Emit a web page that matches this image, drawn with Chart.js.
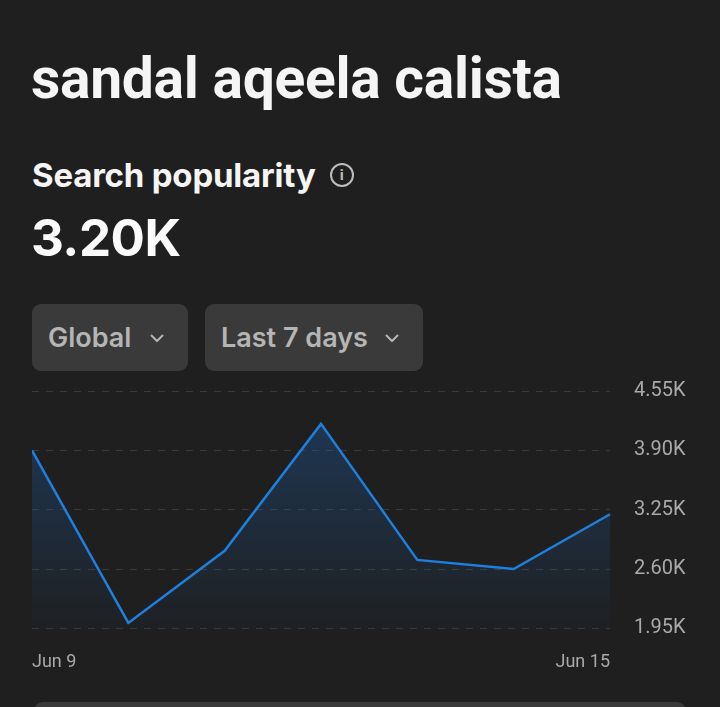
<!DOCTYPE html>
<html>
<head>
<meta charset="utf-8">
<script src="https://cdn.jsdelivr.net/npm/chart.js@4.4.1/dist/chart.umd.min.js"></script>
<style>
  body { margin:0; background:#1f1f1f; width:720px; height:707px; overflow:hidden; font-family:Roboto, sans-serif; position:relative; }
  .title { position:absolute; left:31px; top:45px; font-size:57px; font-weight:700; color:#f5f5f5; letter-spacing:-0.3px; }
  .sub { position:absolute; left:32px; top:155px; font-family:Inter; font-size:33px; font-weight:700; color:#f5f5f5; letter-spacing:-0.2px; display:flex; align-items:center; }
  .info { margin-left:14px; width:20px; height:20px; border:2px solid #bdbdbd; border-radius:50%; color:#bdbdbd; font:700 15px Roboto; text-align:center; line-height:21px; }
  .big { position:absolute; left:31px; top:207px; font-family:Inter; font-size:51px; font-weight:700; color:#fafafa; letter-spacing:-0.5px; }
  .btn { position:absolute; top:304px; height:67px; background:#3a3a3a; border-radius:9px; color:#b5b5b5; font-family:Inter; font-size:27px; font-weight:600; line-height:67px; box-sizing:border-box; padding-left:16px; }
  .btn svg { position:absolute; top:30px; }
  .bottom { position:absolute; left:34px; top:702px; width:652px; height:40px; background:#3a3a3a; border-radius:9px; }
  #wrap { position:absolute; left:32px; top:355px; width:656px; height:333px; }
</style>
</head>
<body>
<div class="title">sandal aqeela calista</div>
<div class="sub">Search popularity<div class="info">i</div></div>
<div class="big">3.20K</div>
<div class="btn" style="left:32px;width:156px;">Global<svg style="left:118px" width="14" height="9"><path d="M1 1 L7 7 L13 1" stroke="#b5b5b5" stroke-width="2" fill="none"/></svg></div>
<div class="btn" style="left:205px;width:218px;">Last 7 days<svg style="left:180px" width="14" height="9"><path d="M1 1 L7 7 L13 1" stroke="#b5b5b5" stroke-width="2" fill="none"/></svg></div>
<div class="bottom"></div>
<div id="wrap"><canvas id="linechart"></canvas></div>
<script>
const days = ['Jun 9','Jun 10','Jun 11','Jun 12','Jun 13','Jun 14','Jun 15'];
const popularity = [3900, 2010, 2800, 4190, 2700, 2600, 3200];
const yTicks = [1950, 2600, 3250, 3900, 4550];

const ctx = document.getElementById('linechart');

new Chart(ctx, {
    type: 'line',
    data: {
        labels: days,
        datasets: [
            {
                label: 'Search popularity',
                data: popularity,
                borderColor: '#1f7fdc',
                borderWidth: 2.5,
                pointRadius: 0,
                tension: 0,
                fill: 'start',
                backgroundColor: function(c) {
                    const area = c.chart.chartArea;
                    if (!area) return 'rgba(30,90,160,0.2)';
                    const g = c.chart.ctx.createLinearGradient(0, area.top, 0, area.bottom);
                    g.addColorStop(0, 'rgba(30,95,170,0.42)');
                    g.addColorStop(1, 'rgba(30,95,170,0.03)');
                    return g;
                }
            }
        ]
    },
    options: {
        responsive: true,
        maintainAspectRatio: false,
        animation: false,
        layout: { padding: { top: 9, right: 0, left: 0, bottom: 0 } },
        plugins: { legend: { display: false }, tooltip: { enabled: false } },
        scales: {
            x: {
                grid: { display: false },
                border: { display: false },
                afterFit: function(s) { s.paddingLeft = 0; s.paddingRight = 0; },
                ticks: {
                    color: '#a9a9a9',
                    font: { family: 'Roboto', size: 18 },
                    padding: 15,
                    align: 'inner',
                    maxRotation: 0,
                    autoSkip: false,
                    callback: function(v, i) {
                        return (i === 0 || i === days.length - 1) ? days[i] : '';
                    }
                }
            },
            y: {
                position: 'right',
                min: yTicks[0],
                max: yTicks[yTicks.length - 1],
                afterBuildTicks: function(s) { s.ticks = yTicks.map(v => ({ value: v })); },
                afterFit: function(s) { s.width = 78; },
                grid: { color: '#3a3a3a', lineWidth: 1, drawTicks: false },
                border: { display: false, dash: [7, 7] },
                ticks: {
                    color: '#a9a9a9',
                    font: { family: 'Roboto', size: 20 },
                    padding: 24,
                    callback: function(v) { return (v / 1000).toFixed(2) + 'K'; }
                }
            }
        }
    }
});
</script>
</body>
</html>
